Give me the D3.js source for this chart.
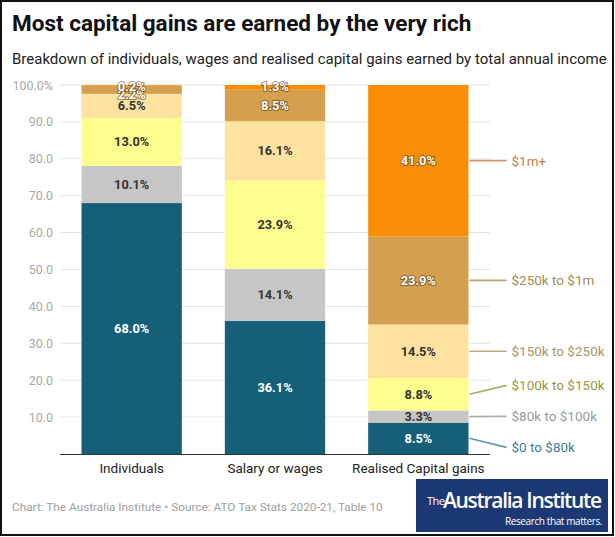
<!DOCTYPE html>
<html><head><meta charset="utf-8">
<script src="https://cdn.jsdelivr.net/npm/d3@7"></script>
<style>
html,body{margin:0;padding:0;background:#fff;}
svg{display:block;font-family:Roboto,"Noto Sans",sans-serif;}
</style></head>
<body>
<svg id="chart" width="615" height="537"></svg>
<script>
const categories = ["Individuals", "Salary or wages", "Realised Capital gains"];
const seriesNames = ["$0 to $80k", "$80k to $100k", "$100k to $150k", "$150k to $250k", "$250k to $1m", "$1m+"];
const band0to80 = [68.0, 36.1, 8.5];
const band80to100 = [10.1, 14.1, 3.3];
const band100to150 = [13.0, 23.9, 8.8];
const band150to250 = [6.5, 16.1, 14.5];
const band250to1m = [2.2, 8.5, 23.9];
const band1mPlus = [0.2, 1.3, 41.0];
const yTicks = [10, 20, 30, 40, 50, 60, 70, 80, 90, 100];

const seriesValues = [band0to80, band80to100, band100to150, band150to250, band250to1m, band1mPlus];
const colors = ["#155f79", "#c6c6c6", "#fefe8e", "#fde2a0", "#d4a04f", "#f98d05"];
const labelColors = ["#3e7d96", "#9a9a9a", "#9a9a3c", "#a8946a", "#a58a55", "#c27c48"];
const darkSeg = [true, false, false, false, true, true];

const svg = d3.select("#chart");
const W = 615, H = 537;

// frame
svg.append("rect").attr("x", 1).attr("y", 1).attr("width", W - 3).attr("height", H - 3)
  .attr("fill", "#fff").attr("stroke", "#111").attr("stroke-width", 2);

svg.append("text").attr("x", 12).attr("y", 31).text("Most capital gains are earned by the very rich")
  .attr("font-size", 22.5).attr("font-weight", 700).attr("fill", "#111");
svg.append("text").attr("x", 12).attr("y", 64)
  .text("Breakdown of individuals, wages and realised capital gains earned by total annual income")
  .attr("font-size", 15).attr("fill", "#222");

const y = d3.scaleLinear().domain([0, 100]).range([454, 85]);
const x = d3.scaleBand().domain(categories).range([60, 490]).paddingInner(0.3).paddingOuter(0.15);

// grid + ticks
const g = svg.append("g");
g.selectAll("line.grid").data(yTicks).join("line")
  .attr("x1", 60).attr("x2", 490).attr("y1", d => y(d)).attr("y2", d => y(d))
  .attr("stroke", "#e4e4e4").attr("stroke-width", 1);
g.selectAll("text.tick").data(yTicks).join("text")
  .attr("x", 53).attr("y", d => y(d) + 4.5).attr("text-anchor", "end")
  .attr("font-size", 12.5).attr("fill", "#a8a8a8")
  .text(d => d === 100 ? "100.0%" : d.toFixed(1));

// stacked data
const table = categories.map((c, i) => {
  const o = { cat: c };
  seriesNames.forEach((s, j) => o[s] = seriesValues[j][i]);
  return o;
});
const stack = d3.stack().keys(seriesNames)(table);

stack.forEach((layer, j) => {
  svg.append("g").selectAll("rect").data(layer).join("rect")
    .attr("x", d => x(d.data.cat)).attr("width", x.bandwidth())
    .attr("y", d => y(d[1])).attr("height", d => y(d[0]) - y(d[1]))
    .attr("fill", colors[j]);
});

// x axis line
svg.append("line").attr("x1", 60).attr("x2", 490).attr("y1", 454.5).attr("y2", 454.5)
  .attr("stroke", "#333").attr("stroke-width", 1.2);
svg.append("g").selectAll("text").data(categories).join("text")
  .attr("x", d => x(d) + x.bandwidth() / 2).attr("y", 472.5).attr("text-anchor", "middle")
  .attr("font-size", 13.5).attr("fill", "#222").text(d => d);

// value labels
stack.forEach((layer, j) => {
  svg.append("g").selectAll("text").data(layer).join("text")
    .attr("x", d => x(d.data.cat) + x.bandwidth() / 2)
    .attr("y", d => {
      const v = d[1] - d[0];
      let cy = (y(d[0]) + y(d[1])) / 2;
      if (v < 3 && j === 5) cy = y(d[1]) + 1;
      else if (v < 3 && j === 4 && d[1] >= 99.5) cy = y(d[1]) + 8.5;
      return cy + 4.5;
    })
    .attr("text-anchor", "middle").attr("font-size", 12.8).attr("font-weight", 700)
    .attr("fill", darkSeg[j] ? "#fff" : "#333")
    .attr("stroke", darkSeg[j] && j !== 0 ? "rgba(70,45,10,0.55)" : "none")
    .attr("stroke-width", 2).attr("paint-order", "stroke")
    .text(d => (d[1] - d[0]).toFixed(1) + "%");
});

// right-side series labels with de-overlap
const last = categories.length - 1;
const items = stack.map((layer, j) => {
  const d = layer[last];
  return { j, mid: (y(d[0]) + y(d[1])) / 2, pos: (y(d[0]) + y(d[1])) / 2 };
});
const gap = 31;
for (let it = 0; it < 200; it++) {
  const sorted = items.slice().sort((a, b) => a.pos - b.pos);
  let moved = false;
  for (let k = 1; k < sorted.length; k++) {
    const a = sorted[k - 1], b = sorted[k];
    const ov = gap - (b.pos - a.pos);
    if (ov > 0.01) { a.pos -= ov / 2; b.pos += ov / 2; moved = true; }
  }
  if (!moved) break;
}
const bx = x(categories[last]) + x.bandwidth();
const lab = svg.append("g");
items.forEach(it => {
  lab.append("line").attr("x1", bx + 1).attr("y1", it.mid).attr("x2", bx + 38).attr("y2", it.pos)
    .attr("stroke", labelColors[it.j]).attr("stroke-width", 1.6).attr("opacity", 0.8);
  lab.append("text").attr("x", bx + 43).attr("y", it.pos + 5)
    .attr("font-size", 13.5).attr("fill", labelColors[it.j]).text(seriesNames[it.j]);
});

// footer
svg.append("text").attr("x", 12).attr("y", 511).attr("font-size", 11.8).attr("fill", "#a0a0a0")
  .text("Chart: The Australia Institute  \u2022 Source: ATO Tax Stats 2020-21, Table 10");

// logo
const lg = svg.append("g");
lg.append("rect").attr("x", 416).attr("y", 479).attr("width", 192).attr("height", 53).attr("fill", "#1d3975");
lg.append("text").attr("x", 427).attr("y", 505).attr("font-size", 11).attr("fill", "#fff")
  .attr("font-family", "'Open Sans',sans-serif").attr("letter-spacing", -0.5).text("The");
lg.append("text").attr("x", 443).attr("y", 508).attr("font-size", 21).attr("fill", "#fff")
  .attr("font-weight", 600)
  .attr("font-family", "'Open Sans',sans-serif").attr("letter-spacing", -1.3).text("Australia Institute");
lg.append("text").attr("x", 602).attr("y", 525).attr("text-anchor", "end").attr("font-size", 10)
  .attr("font-family", "'Open Sans',sans-serif").attr("letter-spacing", -0.4).attr("fill", "#fff").text("Research that matters.");
</script>
</body></html>
